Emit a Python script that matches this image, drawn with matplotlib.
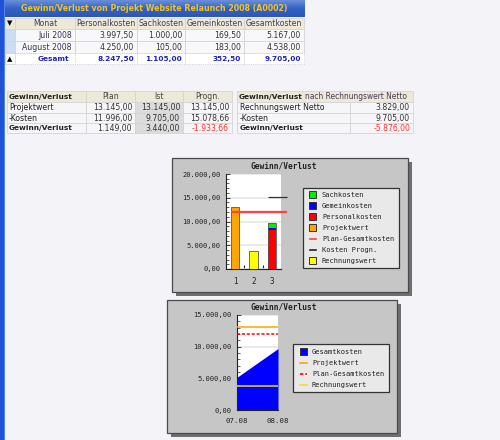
import matplotlib
matplotlib.use('Agg')
import matplotlib.pyplot as plt
from matplotlib.patches import Rectangle
from matplotlib.ticker import MultipleLocator, FuncFormatter, FixedLocator
import numpy as np

# ---------------- data ----------------
page_title = 'Gewinn/Verlust von Projekt Website Relaunch 2008 (A0002)'
t1_columns = ['Monat', 'Personalkosten', 'Sachkosten', 'Gemeinkosten', 'Gesamtkosten']
months = ['Juli 2008', 'August 2008']
personal = [3997.50, 4250.00]
sach = [1000.00, 105.00]
gemein = [169.50, 183.00]
gesamt = [5167.00, 4538.00]
total_label = 'Gesamt'

t2_columns = ['Gewinn/Verlust', 'Plan', 'Ist', 'Progn.']
t2_rows = ['Projektwert', '-Kosten', 'Gewinn/Verlust']
plan = [13145.00, 11996.00, 1149.00]
ist = [13145.00, 9705.00, 3440.00]
progn = [13145.00, 15078.66, -1933.66]

t3_head_bold = 'Gewinn/Verlust'
t3_head_rest = 'nach Rechnungswert Netto'
t3_rows = ['Rechnungswert Netto', '-Kosten', 'Gewinn/Verlust']
rechnung = [3829.00, 9705.00, -5876.00]

chart_title = 'Gewinn/Verlust'
bar_cats = ['1', '2', '3']
projektwert = 13145.00
rechnungswert = 3829.00
plan_gesamtkosten = 11996.00
kosten_progn = 15078.66
legend1 = ['Sachkosten', 'Gemeinkosten', 'Personalkosten', 'Projektwert',
           'Plan-Gesamtkosten', 'Kosten Progn.', 'Rechnungswert']
area_months = ['07.08', '08.08']
legend2 = ['Gesamtkosten', 'Projektwert', 'Plan-Gesamtkosten', 'Rechnungswert']


def fmt(v):
    s = '{:,.2f}'.format(v)
    return s.replace(',', 'X').replace('.', ',').replace('X', '.')


W, H = 500, 440
fig = plt.figure(figsize=(W / 100, H / 100), dpi=100)
fig.patch.set_facecolor('#F4F4F8')
bg = fig.add_axes([0, 0, 1, 1])
bg.set_xlim(0, W)
bg.set_ylim(H, 0)
bg.axis('off')

TF = 'DejaVu Sans'
FS = 5.6
FSB = 5.3
MONO = 'DejaVu Sans Mono'

# left blue strip
bg.add_patch(Rectangle((0, 0), 4.5, H, facecolor='#1F52D6', edgecolor='none'))
bg.add_patch(Rectangle((3.5, 0), 1, H, facecolor='#5A82E6', edgecolor='none'))

# title bar with gradient
grad = np.linspace(0, 1, 50).reshape(-1, 1)
cmap = matplotlib.colors.LinearSegmentedColormap.from_list('tb', ['#6A8FDA', '#3462C4', '#2B56B8'])
bg.imshow(grad, extent=(5, 305, 17, 0), cmap=cmap, aspect='auto', zorder=1)
bg.text(154, 8.8, page_title, ha='center', va='center', fontsize=5.7, fontweight='bold',
        color='#F2C420', family=TF, zorder=3)


def cell(x0, x1, y0, y1, fc, ec='#D4D4D4', ls='-'):
    bg.add_patch(Rectangle((x0, y0), x1 - x0, y1 - y0, facecolor=fc, edgecolor=ec,
                           lw=0.6, linestyle=ls, zorder=2))


# ---------------- table 1 ----------------
cx = [5, 15, 75, 137, 185, 244, 304]
ry = [18, 29, 41, 53, 64]
cell(cx[0], cx[1], ry[0], ry[1], '#ECE9D8')
bg.text((cx[0] + cx[1]) / 2, (ry[0] + ry[1]) / 2, '▼', ha='center', va='center', fontsize=5,
        color='black', zorder=3)
for i, name in enumerate(t1_columns):
    cell(cx[i + 1], cx[i + 2], ry[0], ry[1], '#ECE9D8')
    bg.text((cx[i + 1] + cx[i + 2]) / 2, (ry[0] + ry[1]) / 2 + 0.3, name, ha='center', va='center',
            fontsize=FS, color='#4A3A5A', family=TF, zorder=3)
for r in range(len(months)):
    y0, y1 = ry[r + 1], ry[r + 2]
    ym = (y0 + y1) / 2 + 0.3
    cell(cx[0], cx[1], y0, y1, '#CCDDF2')
    vals = [months[r], fmt(personal[r]), fmt(sach[r]), fmt(gemein[r]), fmt(gesamt[r])]
    for i, v in enumerate(vals):
        cell(cx[i + 1], cx[i + 2], y0, y1, '#F8F8FA')
        bg.text(cx[i + 2] - 3, ym, v, ha='right', va='center', fontsize=FS,
                color='#3A3050' if i == 0 else '#333333', family=TF, zorder=3)
y0, y1 = ry[3], ry[4]
ym = (y0 + y1) / 2 + 0.3
cell(cx[0], cx[1], y0, y1, '#FFFFFF')
bg.text((cx[0] + cx[1]) / 2, ym, '▲', ha='center', va='center', fontsize=5, color='black', zorder=3)
tot = [total_label, fmt(sum(personal)), fmt(sum(sach)), fmt(sum(gemein)), fmt(sum(gesamt))]
for i, v in enumerate(tot):
    cell(cx[i + 1], cx[i + 2], y0, y1, '#FFFFFF', ec='#C8C8C8', ls=':')
    if i == 0:
        bg.text((cx[1] + cx[2]) / 2 + 8, ym, v, ha='center', va='center', fontsize=FSB,
                fontweight='bold', color='#2222BB', family=TF, zorder=3)
    else:
        bg.text(cx[i + 2] - 3, ym, v, ha='right', va='center', fontsize=FSB, fontweight='bold',
                color='#2222BB', family=TF, zorder=3)

# ---------------- table 2 ----------------
c2 = [7, 86, 135, 183, 232]
r2 = [91, 102, 113, 123, 133]
for i, name in enumerate(t2_columns):
    cell(c2[i], c2[i + 1], r2[0], r2[1], '#ECE9D8')
    if i == 0:
        bg.text(c2[0] + 2, (r2[0] + r2[1]) / 2 + 0.3, name, ha='left', va='center', fontsize=FSB,
                fontweight='bold', color='#222222', family=TF, zorder=3)
    else:
        bg.text((c2[i] + c2[i + 1]) / 2, (r2[0] + r2[1]) / 2 + 0.3, name, ha='center', va='center',
                fontsize=FS, color='#444444', family=TF, zorder=3)
cols2 = [plan, ist, progn]
for r, lab in enumerate(t2_rows):
    y0, y1 = r2[r + 1], r2[r + 2]
    ym = (y0 + y1) / 2 + 0.3
    bold = r == 2
    cell(c2[0], c2[1], y0, y1, '#F6F6F8')
    bg.text(c2[0] + 2, ym, lab, ha='left', va='center', fontsize=FSB if bold else FS,
            fontweight='bold' if bold else 'normal', color='#222222', family=TF, zorder=3)
    for j, col in enumerate(cols2):
        cell(c2[j + 1], c2[j + 2], y0, y1, '#DCDCDC' if j == 1 else '#F6F6F8')
        v = col[r]
        bg.text(c2[j + 2] - 3, ym, fmt(v), ha='right', va='center', fontsize=FS,
                color='#FF3333' if v < 0 else '#333333', family=TF, zorder=3)

# ---------------- table 3 ----------------
c3 = [237, 350, 413]
cell(c3[0], c3[2], r2[0], r2[1], '#ECE9D8')
hb = bg.text(c3[0] + 2, (r2[0] + r2[1]) / 2 + 0.3, t3_head_bold, ha='left', va='center', fontsize=FSB,
             fontweight='bold', color='#222222', family=TF, zorder=3)
fig.canvas.draw()
bb = hb.get_window_extent(renderer=fig.canvas.get_renderer())
x_after = bg.transData.inverted().transform((bb.x1, bb.y0))[0]
bg.text(x_after + 2.5, (r2[0] + r2[1]) / 2 + 0.3, t3_head_rest, ha='left', va='center', fontsize=FS * 0.97,
        color='#4A3A5A', family=TF, zorder=3)
for r, lab in enumerate(t3_rows):
    y0, y1 = r2[r + 1], r2[r + 2]
    ym = (y0 + y1) / 2 + 0.3
    bold = r == 2
    cell(c3[0], c3[1], y0, y1, '#F6F6F8')
    cell(c3[1], c3[2], y0, y1, '#F6F6F8')
    bg.text(c3[0] + 3, ym, lab, ha='left', va='center', fontsize=FSB if bold else FS,
            fontweight='bold' if bold else 'normal', color='#222222', family=TF, zorder=3)
    v = rechnung[r]
    bg.text(c3[2] - 3, ym, fmt(v), ha='right', va='center', fontsize=FS,
            color='#FF3333' if v < 0 else '#333333', family=TF, zorder=3)


# ---------------- chart panels ----------------
def panel(x0, y0, x1, y1):
    bg.add_patch(Rectangle((x0 + 4, y0 + 4), x1 - x0, y1 - y0, facecolor='#6E6E6E',
                           edgecolor='none', zorder=1))
    bg.add_patch(Rectangle((x0, y0), x1 - x0, y1 - y0, facecolor='#C6C6C6',
                           edgecolor='#4A4A4A', lw=0.9, zorder=1.5))


panel(172, 158, 408, 292)
panel(167, 300, 397, 433)


def fig_rect(x0, y0, x1, y1):
    return [x0 / W, 1 - y1 / H, (x1 - x0) / W, (y1 - y0) / H]


yfmt = FuncFormatter(lambda v, p: fmt(v))


def style_axes(ax):
    ax.set_facecolor('white')
    for s in ['top', 'right']:
        ax.spines[s].set_visible(False)
    for s in ['left', 'bottom']:
        ax.spines[s].set_color('#222222')
        ax.spines[s].set_linewidth(0.8)
    ax.yaxis.set_major_formatter(yfmt)
    ax.yaxis.set_minor_locator(MultipleLocator(1000))
    ax.tick_params(axis='y', which='major', direction='in', length=3, width=0.6,
                   labelsize=5, pad=4, colors='#222222')
    ax.tick_params(axis='y', which='minor', direction='in', length=2, width=0.5, colors='#222222')
    ax.grid(axis='y', color='#E6E6E6', lw=1.2, zorder=0)
    ax.set_axisbelow(True)
    for lab in ax.get_yticklabels():
        lab.set_family(MONO)


# chart 1: bars
ax1 = fig.add_axes(fig_rect(226, 174, 281, 269))
xpos = np.arange(1, len(bar_cats) + 1)
bw = 0.44
ec = '#555555'
ax1.bar(xpos[0], projektwert, bw, color='#FFA500', edgecolor=ec, lw=0.6, zorder=3)
ax1.bar(xpos[1], rechnungswert, bw, color='#FFFF00', edgecolor=ec, lw=0.6, zorder=3)
p_sum = sum(personal)
g_sum = sum(gemein)
s_sum = sum(sach)
ax1.bar(xpos[2], p_sum, bw, color='#FF0000', edgecolor='none', zorder=3)
ax1.bar(xpos[2], g_sum, bw, bottom=p_sum, color='#0000FF', edgecolor='none', zorder=3)
ax1.bar(xpos[2], s_sum, bw, bottom=p_sum + g_sum, color='#00EE00', edgecolor='none', zorder=3)
ax1.bar(xpos[2], p_sum + g_sum + s_sum, bw, color='none', edgecolor=ec, lw=0.6, zorder=4)
ax1.hlines(plan_gesamtkosten, 0.77, 3.83, color='#FF4040', lw=1.6, zorder=5, clip_on=False)
ax1.hlines(kosten_progn, 2.79, 3.83, color='#333333', lw=0.9, zorder=5, clip_on=False)
ax1.set_xlim(0.5, 3.5)
ax1.set_ylim(0, 20000)
ax1.yaxis.set_major_locator(MultipleLocator(5000))
style_axes(ax1)
ax1.set_xticks(xpos)
ax1.set_xticklabels(bar_cats, family=MONO, fontsize=5.5)
ax1.xaxis.set_minor_locator(FixedLocator([1.5, 2.5]))
ax1.tick_params(axis='x', which='major', length=0, pad=6, colors='#222222')
ax1.tick_params(axis='x', which='minor', direction='in', length=3, width=0.8, colors='#222222')
bg.text(284, 166, chart_title, ha='center', va='center', fontsize=5.7, fontweight='bold',
        family=MONO, color='#222222', zorder=3)

# legend 1
bg.add_patch(Rectangle((303, 188), 96, 80, facecolor='#E9E9E9', edgecolor='#333333', lw=0.9, zorder=3))
leg1_styles = [('box', '#00EE00'), ('box', '#0000FF'), ('box', '#FF0000'), ('box', '#FFA500'),
               ('line', '#FF4040'), ('line', '#222222'), ('box', '#FFFF00')]
for k, (lab, (kind, col)) in enumerate(zip(legend1, leg1_styles)):
    yy = 194.5 + k * 11.05
    if kind == 'box':
        bg.add_patch(Rectangle((309, yy - 3.5), 7, 7, facecolor=col, edgecolor='#333333', lw=0.7, zorder=4))
    else:
        bg.plot([309.5, 315.5], [yy, yy], color=col, lw=1.2, zorder=4)
    bg.text(322, yy + 0.3, lab, ha='left', va='center', fontsize=5, family=MONO, color='#222222', zorder=4)

# chart 2: area
ax2 = fig.add_axes(fig_rect(237, 315, 278, 410))
xa = np.arange(len(area_months))
cum = np.cumsum(gesamt)
ax2.fill_between(xa, 0, cum, color='#0000FF', lw=0, zorder=2)
ax2.axhline(projektwert, color='#FFA500', lw=1.1, zorder=3)
ax2.axhline(plan_gesamtkosten, color='#FF0000', lw=1.1, ls=(0, (2, 1.2)), zorder=3)
ax2.axhline(rechnungswert, color='#F0E020', lw=1.1, zorder=3)
ax2.set_xlim(0, 1)
ax2.set_ylim(0, 15000)
ax2.yaxis.set_major_locator(MultipleLocator(5000))
style_axes(ax2)
ax2.set_xticks(xa)
ax2.set_xticklabels(area_months, family=MONO, fontsize=5.3)
ax2.tick_params(axis='x', which='major', length=0, pad=6, colors='#222222')
bg.text(284, 307, chart_title, ha='center', va='center', fontsize=5.7, fontweight='bold',
        family=MONO, color='#222222', zorder=3)

# legend 2
bg.add_patch(Rectangle((293, 344), 96, 48, facecolor='#E9E9E9', edgecolor='#333333', lw=0.9, zorder=3))
leg2_styles = [('box', '#0000FF'), ('line', '#FFA500'), ('dash', '#FF0000'), ('line', '#F0E020')]
for k, (lab, (kind, col)) in enumerate(zip(legend2, leg2_styles)):
    yy = 352 + k * 11
    if kind == 'box':
        bg.add_patch(Rectangle((300, yy - 3.5), 7, 7, facecolor=col, edgecolor='#333333', lw=0.7, zorder=4))
    elif kind == 'dash':
        bg.plot([300, 307], [yy, yy], color=col, lw=1.2, ls=(0, (2, 1.2)), zorder=4)
    else:
        bg.plot([300, 307], [yy, yy], color=col, lw=1.2, zorder=4)
    bg.text(312, yy + 0.3, lab, ha='left', va='center', fontsize=5, family=MONO, color='#222222', zorder=4)

fig.savefig('out.png', dpi=100, facecolor=fig.get_facecolor())
